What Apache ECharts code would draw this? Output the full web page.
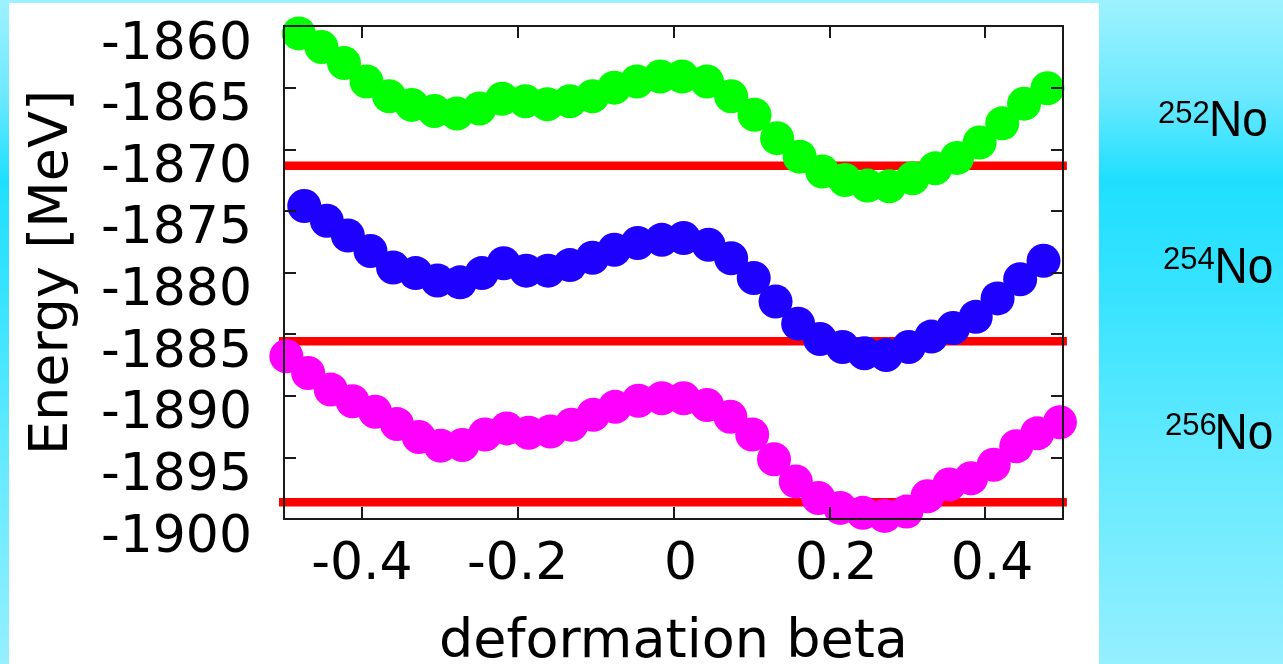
<!DOCTYPE html>
<html>
<head>
<meta charset="utf-8">
<script src="https://cdn.jsdelivr.net/npm/echarts@6.0.0/dist/echarts.min.js"></script>
<style>
  html, body { margin: 0; padding: 0; }
  body {
    width: 1283px; height: 664px; overflow: hidden; position: relative;
    background: linear-gradient(to bottom, #9ef2ff 0%, #6ee9ff 14%, #1fdffe 27%, #38e3ff 45%, #5fe9ff 66%, #95efff 100%);
  }
  #panel { position: absolute; left: 9px; top: 3px; width: 1090px; height: 661px; background: #fff; }
  #chart { position: absolute; left: 0; top: 0; width: 1283px; height: 664px; }
</style>
</head>
<body>
<div id="panel"></div>
<div id="chart"></div>
<script>
// tick labels
var xTicks = [-0.4, -0.2, 0, 0.2, 0.4];
var yMin = -1900, yMax = -1860, yStep = 5;

// 252No (green)
var greenBeta = [-0.481, -0.452, -0.423, -0.394, -0.365, -0.336, -0.307, -0.278, -0.249, -0.220, -0.190, -0.162, -0.133, -0.104, -0.076, -0.047, -0.017, 0.011, 0.043, 0.074, 0.104, 0.133, 0.162, 0.191, 0.220, 0.249, 0.277, 0.307, 0.336, 0.364, 0.393, 0.422, 0.450, 0.480];
var greenE = [-1860.6, -1861.7, -1863.0, -1864.5, -1865.7, -1866.4, -1866.9, -1867.1, -1866.7, -1865.9, -1866.1, -1866.35, -1866.1, -1865.7, -1865.0, -1864.5, -1864.1, -1864.1, -1864.5, -1865.7, -1867.2, -1869.1, -1870.6, -1871.8, -1872.5, -1872.95, -1873.0, -1872.35, -1871.55, -1870.7, -1869.45, -1867.9, -1866.3, -1865.05];

// 254No (blue)
var blueBeta = [-0.474, -0.445, -0.418, -0.389, -0.360, -0.331, -0.303, -0.274, -0.246, -0.218, -0.189, -0.161, -0.133, -0.104, -0.076, -0.046, -0.015, 0.013, 0.045, 0.074, 0.103, 0.131, 0.160, 0.188, 0.217, 0.245, 0.273, 0.302, 0.331, 0.359, 0.388, 0.416, 0.445, 0.475];
var blueE = [-1874.6, -1875.8, -1877.0, -1878.25, -1879.6, -1880.05, -1880.65, -1880.8, -1880.05, -1879.25, -1879.85, -1879.85, -1879.4, -1878.8, -1878.15, -1877.6, -1877.35, -1877.2, -1877.75, -1878.85, -1880.45, -1882.35, -1884.15, -1885.4, -1886.05, -1886.55, -1886.7, -1886.05, -1885.2, -1884.5, -1883.6, -1882.1, -1880.55, -1879.05];

// 256No (magenta)
var magentaBeta = [-0.497, -0.469, -0.440, -0.412, -0.383, -0.355, -0.327, -0.299, -0.271, -0.242, -0.214, -0.186, -0.158, -0.131, -0.103, -0.075, -0.045, -0.015, 0.013, 0.043, 0.073, 0.101, 0.129, 0.157, 0.186, 0.214, 0.243, 0.271, 0.299, 0.326, 0.354, 0.382, 0.411, 0.440, 0.467, 0.496];
var magentaE = [-1886.8, -1888.15, -1889.5, -1890.45, -1891.3, -1892.3, -1893.35, -1894.05, -1894.0, -1893.15, -1892.65, -1893.0, -1892.9, -1892.35, -1891.55, -1890.9, -1890.4, -1890.2, -1890.2, -1890.75, -1891.7, -1893.15, -1895.15, -1896.95, -1898.3, -1899.1, -1899.5, -1899.75, -1899.4, -1898.15, -1897.2, -1896.7, -1895.6, -1894.1, -1893.05, -1892.15];

// red reference levels
var redE = [-1871.34, -1885.57, -1898.65];
var redStart = [-0.499, -0.508, -0.514];
var redEnd = [0.505, 0.505, 0.505];

// right side labels
var massNumbers = ['252', '254', '256'];
var elementName = 'No';

function pairs(xs, ys) {
  return xs.map(function (x, i) { return [x, ys[i]]; });
}

var chart = echarts.init(document.getElementById('chart'), null, { renderer: 'canvas' });

var axisColor = '#1a1a1a';
var font = 'DejaVu Sans';

var redSeries = redE.map(function (e, i) {
  return {
    type: 'line',
    data: [[redStart[i], e], [redEnd[i], e]],
    symbol: 'none',
    clip: false,
    silent: true,
    z: 2,
    lineStyle: { color: '#ff0000', width: 8.5 }
  };
});

function dots(xs, ys, color) {
  return {
    type: 'scatter',
    data: pairs(xs, ys),
    symbol: 'circle',
    symbolSize: 34,
    clip: false,
    z: 3,
    itemStyle: { color: color, opacity: 1 }
  };
}

var labelTexts = [];
var supPos = [[1158, 114], [1163, 260.5], [1165, 426]];
var mainPos = [[1209, 122.5], [1214.5, 269.5], [1214.5, 435]];
massNumbers.forEach(function (m, i) {
  labelTexts.push({
    type: 'text', x: supPos[i][0], y: supPos[i][1], z: 100,
    style: { text: m, fontSize: 31, fontFamily: 'Liberation Sans', fill: '#000', align: 'left', verticalAlign: 'middle' }
  });
  labelTexts.push({
    type: 'text', x: mainPos[i][0], y: mainPos[i][1], z: 100,
    scaleY: 1.1,
    style: { text: elementName, fontSize: 46, fontFamily: 'Liberation Sans', fill: '#000', align: 'left', verticalAlign: 'middle' }
  });
});

chart.setOption({
  animation: false,
  backgroundColor: 'transparent',
  grid: { left: 284, top: 26, width: 779, height: 493, outerBoundsMode: 'none', containLabel: false },
  xAxis: [
    {
      type: 'value', min: -0.5, max: 0.5, position: 'bottom', z: 10,
      axisLine: { show: true, onZero: false, lineStyle: { color: axisColor, width: 2 } },
      axisTick: { show: true, inside: true, length: 12, customValues: xTicks, lineStyle: { color: axisColor, width: 2 } },
      splitLine: { show: false },
      axisLabel: {
        customValues: xTicks, margin: 20, fontSize: 52, fontFamily: font, color: '#000',
        formatter: function (v) { return v >= 0 ? '{p|' + v + '}' : String(v); },
        rich: { p: { fontSize: 52, fontFamily: font, color: '#000', padding: [0, 0, 0, 14] } }
      },
      name: 'deformation beta', nameLocation: 'middle', nameGap: 97,
      nameTextStyle: { fontSize: 54, fontFamily: font, color: '#000' }
    },
    {
      type: 'value', min: -0.5, max: 0.5, position: 'top', z: 10,
      axisLine: { show: true, onZero: false, lineStyle: { color: axisColor, width: 2 } },
      axisTick: { show: true, inside: true, length: 12, customValues: xTicks, lineStyle: { color: axisColor, width: 2 } },
      axisLabel: { show: false },
      splitLine: { show: false }
    }
  ],
  yAxis: [
    {
      type: 'value', min: yMin, max: yMax, interval: yStep, position: 'left', z: 10,
      axisLine: { show: true, onZero: false, lineStyle: { color: axisColor, width: 2 } },
      axisTick: { show: true, inside: true, length: 12, lineStyle: { color: axisColor, width: 2 } },
      splitLine: { show: false },
      axisLabel: {
        margin: 32, fontSize: 52, fontFamily: font, color: '#000',
        hideOverlap: false,
        formatter: function (v) { return '{v|' + v + '}'; },
        rich: { v: { fontSize: 52, fontFamily: font, color: '#000', padding: [38, 0, 0, 0] } }
      },
      name: 'Energy [MeV]', nameLocation: 'middle', nameGap: 204, nameRotate: 90,
      nameTextStyle: { fontSize: 54, fontFamily: font, color: '#000' }
    },
    {
      type: 'value', min: yMin, max: yMax, interval: yStep, position: 'right', z: 10,
      axisLine: { show: true, onZero: false, lineStyle: { color: axisColor, width: 2 } },
      axisTick: { show: true, inside: true, length: 12, lineStyle: { color: axisColor, width: 2 } },
      axisLabel: { show: false },
      splitLine: { show: false }
    }
  ],
  graphic: labelTexts,
  series: redSeries.concat([
    dots(greenBeta, greenE, '#00ff00'),
    dots(blueBeta, blueE, '#1e00ff'),
    dots(magentaBeta, magentaE, '#ff00ff')
  ])
});
</script>
</body>
</html>
